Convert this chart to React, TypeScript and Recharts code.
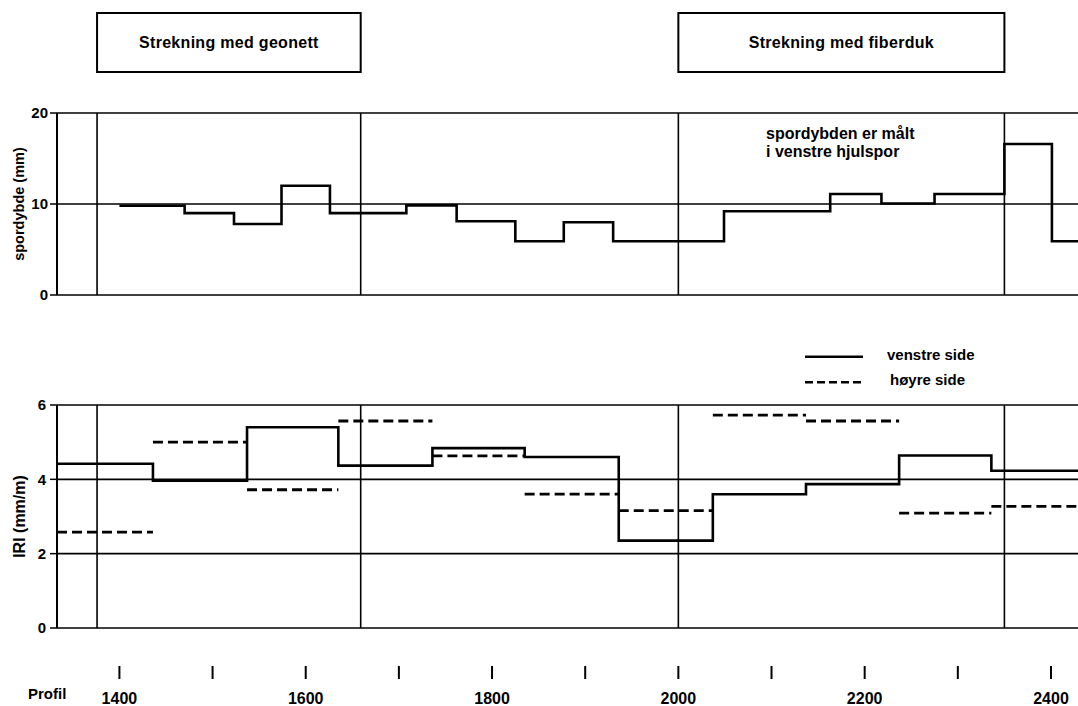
import React from 'react';
import {
  ComposedChart,
  Line,
  XAxis,
  YAxis,
  CartesianGrid,
  ReferenceLine,
  ReferenceArea,
  Legend,
} from 'recharts';

const FONT = '"Liberation Sans", Arial, Helvetica, sans-serif';
const W = 1078;

// ---- shared x (profil) ----
const profileDomain = [1333, 2429];
const profilTicks = [1400, 1500, 1600, 1700, 1800, 1900, 2000, 2100, 2200, 2300, 2400];
const profilLabels = [1400, 1600, 1800, 2000, 2200, 2400];
const sectionLines = [1376, 1659, 2000, 2350];

// ---- section boxes ----
const boxLabels = ['Strekning med geonett', 'Strekning med fiberduk'];
const boxFrom = [1376, 2000];
const boxTo = [1659, 2350];

// ---- top panel: spordybde ----
const rutStarts = [1400, 1470, 1523, 1574, 1626, 1708, 1762, 1825, 1877, 1930, 2049, 2163, 2218, 2275, 2350, 2401];
const rutEnd = 2429;
const rutDepth = [9.8, 9.0, 7.8, 12.0, 9.0, 9.85, 8.1, 5.9, 8.0, 5.9, 9.2, 11.1, 10.05, 11.1, 16.6, 5.9];
const depthTicks = [0, 10, 20];

// ---- bottom panel: IRI ----
const iriStarts = [1333, 1436, 1537, 1635, 1736, 1835, 1936, 2037, 2137, 2237, 2336];
const iriEnd = 2429;
const iriLeft = [4.42, 3.96, 5.4, 4.37, 4.84, 4.6, 2.35, 3.6, 3.87, 4.64, 4.23];
const iriRight = [2.58, 5.0, 3.72, 5.57, 4.63, 3.6, 3.16, 5.73, 5.57, 3.09, 3.27];
const iriTicks = [0, 2, 4, 6];
const seriesNames = ['venstre side', 'høyre side'];

function stepRows(starts: number[], end: number, vals: number[], key: string) {
  const rows: any[] = starts.map((p, i) => ({ p, [key]: vals[i] }));
  rows.push({ p: end, [key]: vals[vals.length - 1] });
  return rows;
}

function segRows(starts: number[], end: number, vals: number[], key: string) {
  const rows: any[] = [];
  starts.forEach((p, i) => {
    const q = i + 1 < starts.length ? starts[i + 1] : end;
    rows.push({ p, [key]: vals[i] });
    rows.push({ p: q, [key]: vals[i] });
    if (i + 1 < starts.length) rows.push({ p: q, [key]: null });
  });
  return rows;
}

const rutRows = stepRows(rutStarts, rutEnd, rutDepth, 'depth');
const leftRows = stepRows(iriStarts, iriEnd, iriLeft, 'left');
const rightRows = segRows(iriStarts, iriEnd, iriRight, 'right');

const yLabel = (text: string, size: number) => (props: any) => {
  const vb = props.viewBox || { x: 0, y: 0, width: 0, height: 0 };
  const cx = 19;
  const cy = vb.y + vb.height / 2;
  return (
    <text
      x={cx}
      y={cy}
      transform={`rotate(-90 ${cx} ${cy})`}
      textAnchor="middle"
      dominantBaseline="central"
      fontFamily={FONT}
      fontSize={size}
      fontWeight={700}
      fill="#000"
    >
      {text}
    </text>
  );
};

const profilLabel = (props: any) => {
  const vb = props.viewBox || { x: 0, y: 0 };
  return (
    <text x={vb.x - 29} y={vb.y + 71} fontFamily={FONT} fontSize={15} fontWeight={700} fill="#000">
      Profil
    </text>
  );
};

const XTick = (props: any) => {
  const { x, y, payload } = props;
  const v = payload.value;
  return (
    <g>
      <line x1={x} x2={x} y1={y + 38} y2={y + 51} stroke="#000" strokeWidth={2} />
      {profilLabels.includes(v) && (
        <text x={x} y={y + 76} textAnchor="middle" fontFamily={FONT} fontSize={16} fontWeight={700} fill="#000">
          {v}
        </text>
      )}
    </g>
  );
};

const LegendContent = (props: any) => {
  const payload = [...(props.payload || [])].sort(
    (a: any, b: any) => seriesNames.indexOf(a.value) - seriesNames.indexOf(b.value)
  );
  return (
    <svg width={200} height={62} style={{ overflow: 'visible', display: 'block' }}>
      {payload.map((e: any, i: number) => {
        const dashed = e.value === seriesNames[1];
        const y = 26.7 + i * 25.6;
        return (
          <g key={e.value}>
            <line x1={5} x2={63} y1={y} y2={y} stroke="#000" strokeWidth={2.6} strokeDasharray={dashed ? '8 4' : undefined} />
            <text x={87 + i * 3} y={y + 3} fontFamily={FONT} fontSize={15} fontWeight={700} fill="#000">
              {e.value}
            </text>
          </g>
        );
      })}
    </svg>
  );
};

const yTick = { fill: '#000', fontSize: 15, fontWeight: 700, fontFamily: FONT };

export default function App() {
  return (
    <div style={{ position: 'absolute', left: 0, top: 0, width: W, height: 706, background: '#fff', overflow: 'hidden' }}>
      <div style={{ position: 'absolute', left: 0, top: 0 }}>
        <ComposedChart width={W} height={310} margin={{ top: 113, right: 0, bottom: 15, left: 0 }}>
          <XAxis dataKey="p" type="number" domain={profileDomain} allowDataOverflow hide />
          <YAxis
            type="number"
            domain={[0, 20]}
            ticks={depthTicks}
            width={57}
            interval={0}
            tick={yTick}
            tickSize={7}
            tickMargin={2}
            tickLine={{ stroke: '#000', strokeWidth: 1.5 }}
            axisLine={{ stroke: '#000', strokeWidth: 2 }}
            label={yLabel('spordybde (mm)', 14.5)}
          />
          <CartesianGrid vertical={false} stroke="#000" strokeWidth={1.7} strokeDasharray="" />
          {sectionLines.map((x) => (
            <ReferenceLine key={x} x={x} stroke="#000" strokeWidth={1.6} />
          ))}
          {boxLabels.map((lab, i) => (
            <ReferenceArea
              key={lab}
              x1={boxFrom[i]}
              x2={boxTo[i]}
              y1={24.5}
              y2={31}
              ifOverflow="visible"
              fill="#fff"
              fillOpacity={1}
              stroke="#000"
              strokeWidth={2}
              label={{ value: lab, position: 'center', fill: '#000', fontSize: 16, fontWeight: 700, fontFamily: FONT, letterSpacing: 0.3 }}
            />
          ))}
          <Line
            data={rutRows}
            dataKey="depth"
            type="stepAfter"
            stroke="#000"
            strokeWidth={2.6}
            dot={false}
            activeDot={false}
            isAnimationActive={false}
            legendType="none"
          />
        </ComposedChart>
      </div>

      <div
        style={{
          position: 'absolute',
          left: 766,
          top: 125,
          fontFamily: FONT,
          fontSize: 16,
          fontWeight: 700,
          lineHeight: '17.6px',
          color: '#000',
          whiteSpace: 'nowrap',
        }}
      >
        spordybden er målt
        <br />i venstre hjulspor
      </div>

      <div style={{ position: 'absolute', left: 0, top: 320 }}>
        <ComposedChart width={W} height={386} margin={{ top: 85, right: 0, bottom: 0, left: 0 }}>
          <XAxis
            dataKey="p"
            type="number"
            domain={profileDomain}
            allowDataOverflow
            ticks={profilTicks}
            interval={0}
            height={78}
            axisLine={false}
            tickLine={false}
            tickSize={0}
            tickMargin={0}
            tick={<XTick />}
            label={profilLabel}
          />
          <YAxis
            type="number"
            domain={[0, 6]}
            ticks={iriTicks}
            width={57}
            interval={0}
            tick={yTick}
            tickSize={7}
            tickMargin={4}
            tickLine={{ stroke: '#000', strokeWidth: 1.5 }}
            axisLine={{ stroke: '#000', strokeWidth: 2 }}
            label={yLabel('IRI (mm/m)', 16)}
          />
          <CartesianGrid vertical={false} stroke="#000" strokeWidth={1.7} strokeDasharray="" />
          {sectionLines.map((x) => (
            <ReferenceLine key={x} x={x} stroke="#000" strokeWidth={1.6} />
          ))}
          <Legend
            layout="horizontal"
            verticalAlign="middle"
            align="center"
            content={<LegendContent />}
            wrapperStyle={{ left: 800, top: 10, width: 200, height: 62 }}
          />
          <Line
            name={seriesNames[0]}
            data={leftRows}
            dataKey="left"
            type="stepAfter"
            stroke="#000"
            strokeWidth={2.6}
            dot={false}
            activeDot={false}
            isAnimationActive={false}
          />
          <Line
            name={seriesNames[1]}
            data={rightRows}
            dataKey="right"
            type="linear"
            connectNulls={false}
            stroke="#000"
            strokeWidth={2.8}
            strokeDasharray="10 5"
            dot={false}
            activeDot={false}
            isAnimationActive={false}
          />
        </ComposedChart>
      </div>
    </div>
  );
}
